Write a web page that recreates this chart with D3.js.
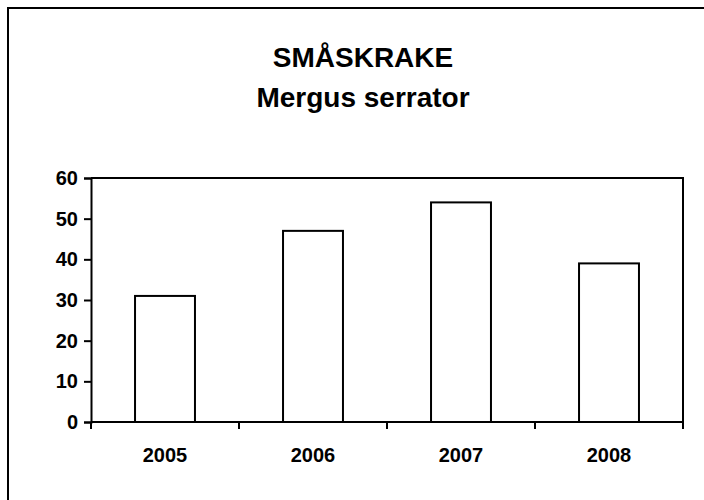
<!DOCTYPE html>
<html>
<head>
<meta charset="utf-8">
<script src="https://cdn.jsdelivr.net/npm/d3@7"></script>
<style>
  body { margin: 0; background: #fff; }
  svg { display: block; font-family: Arial, "Liberation Sans", sans-serif; }
</style>
</head>
<body>
<svg id="chart"></svg>
<script>
// data
var years = ["2005", "2006", "2007", "2008"]
var counts = [31, 47, 54, 39]
var yTicks = [0, 10, 20, 30, 40, 50, 60]
var titleLines = ["SMÅSKRAKE", "Mergus serrator"]

var dimensions = {
  width: 704,
  height: 500,
  margin: {
    top: 178,
    bottom: 78,
    right: 21,
    left: 91
  }
}

var svg = d3.select("#chart")
  .attr("width", dimensions.width)
  .attr("height", dimensions.height)

// outer frame (right/bottom edges fall outside the picture)
svg.append("rect")
  .attr("x", 8).attr("y", 8)
  .attr("width", 720).attr("height", 520)
  .attr("fill", "none")
  .attr("stroke", "#000")
  .attr("stroke-width", 2)

var xScale = d3.scaleBand()
  .domain(years)
  .range([dimensions.margin.left, dimensions.width - dimensions.margin.right])
  .paddingInner(0.595)
  .paddingOuter(0.2975)

var bandStep = (dimensions.width - dimensions.margin.right - dimensions.margin.left) / years.length

var yScale = d3.scaleLinear()
  .domain([0, 60])
  .range([dimensions.height - dimensions.margin.bottom, dimensions.margin.top])

// title
svg.append("g")
  .selectAll("text")
  .data(titleLines)
  .enter()
  .append("text")
    .attr("x", 363)
    .attr("y", (d, i) => 67 + i * 40)
    .attr("text-anchor", "middle")
    .attr("font-size", "28px")
    .attr("font-weight", "bold")
    .text(d => d)

// plot area frame (top and right)
var x0 = dimensions.margin.left
var x1 = dimensions.width - dimensions.margin.right
svg.append("path")
  .attr("d", `M${x0},${yScale(60)}H${x1}V${yScale(0)}`)
  .attr("fill", "none")
  .attr("stroke", "#000")
  .attr("stroke-width", 2)

// bars
svg.append("g")
  .selectAll("rect")
  .data(years)
  .enter()
  .append("rect")
    .attr("x", d => xScale(d))
    .attr("y", (d, i) => yScale(counts[i]))
    .attr("width", xScale.bandwidth())
    .attr("height", (d, i) => yScale(0) - yScale(counts[i]))
    .attr("fill", "#fff")
    .attr("stroke", "#000")
    .attr("stroke-width", 2)

// y axis
var yAxis = svg.append("g")
  .attr("transform", `translate(${x0},0)`)
  .call(d3.axisLeft(yScale).tickValues(yTicks).tickSize(7).tickPadding(6))
yAxis.select(".domain").attr("stroke-width", 2)
yAxis.selectAll(".tick line").attr("stroke-width", 2)
yAxis.selectAll(".tick text")
  .attr("font-size", "20px")
  .attr("font-weight", "bold")
  .attr("font-family", "Arial, 'Liberation Sans', sans-serif")
  .attr("fill", "#000")

// x axis: ticks sit on the category boundaries
var boundaries = d3.range(years.length + 1).map(i => x0 + i * bandStep)
var xAxis = svg.append("g")
xAxis.append("line")
  .attr("x1", x0).attr("x2", x1)
  .attr("y1", yScale(0)).attr("y2", yScale(0))
  .attr("stroke", "#000")
  .attr("stroke-width", 2)
xAxis.selectAll(".xtick")
  .data(boundaries)
  .enter()
  .append("line")
    .attr("class", "xtick")
    .attr("x1", d => d).attr("x2", d => d)
    .attr("y1", yScale(0)).attr("y2", yScale(0) + 7)
    .attr("stroke", "#000")
    .attr("stroke-width", 2)
xAxis.selectAll(".xlabel")
  .data(years)
  .enter()
  .append("text")
    .attr("class", "xlabel")
    .attr("x", d => xScale(d) + xScale.bandwidth() / 2)
    .attr("y", 462)
    .attr("text-anchor", "middle")
    .attr("font-size", "20px")
    .attr("font-weight", "bold")
    .text(d => d)
</script>
</body>
</html>
